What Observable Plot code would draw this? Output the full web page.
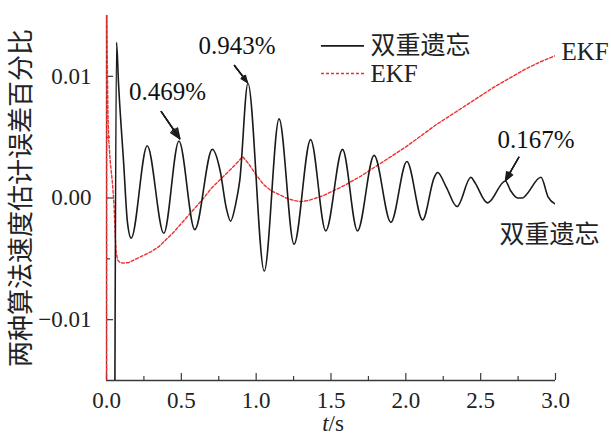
<!DOCTYPE html>
<html><head><meta charset="utf-8">
<script src="https://cdn.jsdelivr.net/npm/d3@7"></script>
<script src="https://cdn.jsdelivr.net/npm/@observablehq/plot@0.6"></script>
<style>
html,body{margin:0;padding:0;background:#fff;}
#chart{width:611px;height:436px;overflow:hidden;}
#chart svg text{font-family:"Liberation Serif","Noto Sans CJK SC",serif !important;}
</style></head><body><div id="chart"></div>
<script>
// ---- data ----
const seriesNames = ["双重遗忘", "EKF"];

// 双重遗忘 (double forgetting) estimate error, time in s, value as fraction
const dfTime = [0.055, 0.067, 0.08, 0.115, 0.14, 0.165, 0.272, 0.383, 0.484, 0.59, 0.707, 0.76, 0.80, 0.829, 0.863, 0.89, 0.945,
  1.054, 1.153, 1.253, 1.364, 1.465, 1.577, 1.677, 1.788, 1.90, 2.007, 2.112, 2.19, 2.212, 2.27, 2.342, 2.435, 2.46,
  2.546, 2.56, 2.665, 2.70, 2.747, 2.78, 2.80, 2.903, 2.95, 3.0];
const dfValue = [-0.02, 0.0128, 0.0095, 0.0028, -0.0020, -0.0033, 0.0043, -0.0029, 0.00469, -0.0026, 0.0040, 0.0022, -0.0008, -0.0019, -0.0005, 0.0014, 0.00943,
  -0.0060, 0.0065, -0.0038, 0.0048, -0.0027, 0.0040, -0.0027, 0.0035, -0.0020, 0.0030, -0.0018, 0.0017, 0.0021, 0.0009, -0.0007, 0.0017, 0.0013,
  -0.0004, -0.0003, 0.0014, 0.0006, 0.0000, 0.0000, 0.0002, 0.0017, 0.0001, -0.0005];

// EKF estimate error
const ekfTime = [0, 0.002, 0.006, 0.010, 0.015, 0.025, 0.040, 0.050, 0.058, 0.065, 0.075, 0.09, 0.11, 0.15, 0.2, 0.25, 0.3, 0.35, 0.4, 0.45,
  0.5, 0.55, 0.6, 0.65, 0.7, 0.75, 0.8, 0.85, 0.91, 0.95, 1.0, 1.05, 1.1, 1.15, 1.2, 1.25, 1.3, 1.35, 1.4, 1.45, 1.5, 1.55, 1.6,
  1.7, 1.8, 1.9, 2.0, 2.1, 2.2, 2.3, 2.4, 2.5, 2.6, 2.7, 2.8, 2.9, 3.0];
const ekfValue = [-0.02, 0.016, 0.0105, 0.0068, 0.0048, 0.0030, 0.0012, -0.0005, -0.0030, -0.0045, -0.0051, -0.0053, -0.00535, -0.0053, -0.0050, -0.0047, -0.0044, -0.0040, -0.0034, -0.0028,
  -0.0021, -0.0014, -0.0007, 0.0000, 0.0008, 0.0014, 0.0020, 0.0026, 0.0034, 0.0028, 0.0019, 0.0011, 0.0006, 0.0003, 0.0000, -0.0002, -0.0003, -0.0002, 0.0000, 0.0002, 0.0005, 0.0008, 0.0011,
  0.0018, 0.0026, 0.0034, 0.0042, 0.0051, 0.0060, 0.0068, 0.0076, 0.0084, 0.0092, 0.0099, 0.0106, 0.0112, 0.0117];

// axes
const xTicks = [0, 0.5, 1, 1.5, 2, 2.5, 3];
const xMinorTicks = [0.25, 0.75, 1.25, 1.75, 2.25, 2.75];
const yTicks = [-0.01, 0, 0.01];
const yMinorTicks = [-0.005, 0.005];
const yTitle = "两种算法速度估计误差百分比";
const xTitleVar = "t";
const xTitleUnit = "/s";

// peak annotations
const peakLabels = ["0.469%", "0.943%", "0.167%"];
const peakTime = [0.4897, 0.940, 2.666];
const peakValue = [0.00487, 0.00952, 0.00144];
const arrowTailTime = [0.366, 0.855, 2.755];
const arrowTailValue = [0.0071, 0.01089, 0.00335];
const labelTime = [0.4076, 0.872, 2.870];
const labelValue = [0.00871, 0.01253, 0.00473];

// series end labels
const endLabels = ["EKF", "双重遗忘"];
const endLabelTime = [3.04, 2.626];
const endLabelValue = [0.0120, -0.00308];

// legend placement (data units)
const legendLineStart = 1.4365, legendLineEnd = 1.7238, legendTextTime = 1.764;
const legendValue = [0.0125, 0.01023];

// ---- build ----
const df = dfTime.map((t, i) => ({t, v: dfValue[i]}));
const ekf = ekfTime.map((t, i) => ({t, v: ekfValue[i]}));
const ann = peakLabels.map((label, i) => ({label, t: peakTime[i], v: peakValue[i], t1: arrowTailTime[i], v1: arrowTailValue[i], lt: labelTime[i], lv: labelValue[i]}));
const ends = endLabels.map((label, i) => ({label, t: endLabelTime[i], v: endLabelValue[i]}));
const legend = seriesNames.map((name, i) => ({name, v: legendValue[i]}));

const serif = "Liberation Serif, Noto Sans CJK SC, serif";
const black = "#1a1a1a", red = "#ee3030", axisColor = "#3a3a3a";
const W = 611, H = 436, mL = 106, mR = 56, mT = 15, mB = 56;
const frameW = W - mL - mR, frameH = H - mT - mB;

const arrowCommon = {x1: "t1", y1: "v1", x2: "t", y2: "v", stroke: black, strokeWidth: 1.4, headLength: 12};

const chart = Plot.plot({
  width: W, height: H,
  marginLeft: mL, marginRight: mR, marginTop: mT, marginBottom: mB,
  style: {fontFamily: serif, fontSize: "23px", color: "#222", background: "#fff", overflow: "visible"},
  x: {domain: [0, 3], label: null},
  y: {domain: [-0.015, 0.015], label: null},
  marks: [
    // axis lines
    Plot.ruleX([0], {stroke: axisColor, strokeWidth: 1.3}),
    Plot.ruleY([-0.015], {stroke: axisColor, strokeWidth: 1.3}),
    // inward ticks
    Plot.ruleX(xTicks, {x: d => d, insetTop: frameH - 7, stroke: axisColor, strokeWidth: 1.2}),
    Plot.ruleX(xMinorTicks, {x: d => d, insetTop: frameH - 4, stroke: axisColor, strokeWidth: 1.2}),
    Plot.ruleY(yTicks, {y: d => d, insetRight: frameW - 7, stroke: axisColor, strokeWidth: 1.2}),
    Plot.ruleY(yMinorTicks, {y: d => d, insetRight: frameW - 4, stroke: axisColor, strokeWidth: 1.2}),
    // tick labels
    Plot.axisX(xTicks, {tickSize: 0, tickPadding: 11, tickFormat: d3.format(".1f"), fontSize: 23, fontFamily: serif, label: null}),
    Plot.axisY(yTicks, {tickSize: 0, tickPadding: 15, tickFormat: d3.format(".2f"), fontSize: 23, fontFamily: serif, label: null}),
    // axis titles
    Plot.text([yTitle], {frameAnchor: "left", textAnchor: "middle", lineAnchor: "middle", dx: -85, rotate: -90, fontSize: 26, fontFamily: serif, fill: "#222"}),
    Plot.text([xTitleVar + xTitleUnit], {frameAnchor: "bottom", textAnchor: "middle", lineAnchor: "middle", dx: 2, dy: 43, fontSize: 23, fontFamily: serif, fill: "#222"}),
    // series
    Plot.line(ekf, {x: "t", y: "v", stroke: red, strokeWidth: 1.4, strokeDasharray: "3,2", clip: true}),
    Plot.line(df, {x: "t", y: "v", stroke: black, strokeWidth: 1.6, curve: "monotone-x", clip: true}),
    // annotations
    Plot.arrow(ann, {...arrowCommon, headAngle: 45}),
    Plot.arrow(ann, {...arrowCommon, headAngle: 30}),
    Plot.arrow(ann, {...arrowCommon, headAngle: 15}),
    Plot.text(ann, {x: "lt", y: "lv", text: "label", fontSize: 25, fontFamily: serif, fill: "#111"}),
    Plot.text(ends, {x: "t", y: "v", text: "label", textAnchor: "start", fontSize: 25, fontFamily: serif, fill: "#222"}),
    // legend
    Plot.ruleY(legend.slice(0, 1), {y: "v", x1: legendLineStart, x2: legendLineEnd, stroke: black, strokeWidth: 1.6}),
    Plot.ruleY(legend.slice(1, 2), {y: "v", x1: legendLineStart, x2: legendLineEnd, stroke: red, strokeWidth: 1.4, strokeDasharray: "3,2"}),
    Plot.text(legend, {x: legendTextTime, y: "v", text: "name", textAnchor: "start", fontSize: 25, fontFamily: serif, fill: "#222"})
  ]
});
// italicise the variable symbol of the x title
d3.select(chart).selectAll("text").filter(function() { return this.textContent === xTitleVar + xTitleUnit; })
  .each(function() {
    const el = d3.select(this);
    el.text(null);
    el.append("tspan").attr("font-style", "italic").text(xTitleVar);
    el.append("tspan").text(xTitleUnit);
  });
document.getElementById("chart").appendChild(chart);
</script>
</body></html>
